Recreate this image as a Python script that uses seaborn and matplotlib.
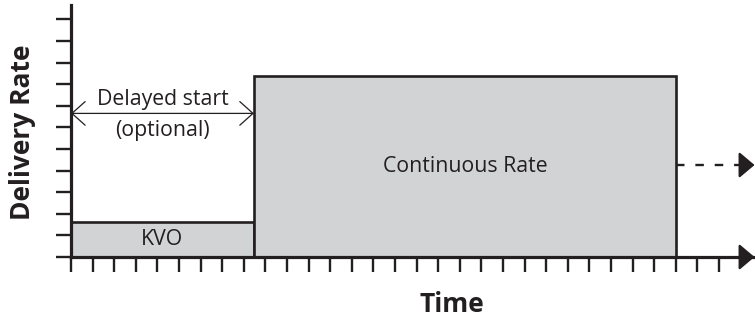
import matplotlib
matplotlib.use("Agg")
import matplotlib.pyplot as plt
import seaborn as sns

# infusion phases (time units = tick spacing, rate units = tick spacing)
phase_labels = ["KVO", "Continuous Rate"]
phase_start = [0.0, 8.47]
phase_end = [8.47, 28.0]
phase_rate = [1.6, 8.4]

continue_rate = 4.26      # dashed continuation after the programmed rate
delay_arrow_rate = 6.65   # height of the "delayed start" arrow
x_ticks = list(range(0, 31))
y_ticks = list(range(0, 12))
x_max = 31.67
y_max = 11.67

ink = "#231f20"
fill = "#d1d3d4"

sns.set_style("ticks")
plt.rcParams["font.family"] = ["Open Sans", "DejaVu Sans"]

fig = plt.figure(figsize=(7.55, 3.25), dpi=100)
ax = fig.add_axes([71 / 755, 68 / 325, 684 / 755, 252 / 325])

widths = [e - s for s, e in zip(phase_start, phase_end)]
ax.bar(phase_start, phase_rate, width=widths, align="edge", color=fill,
       edgecolor=ink, linewidth=1.9, zorder=2)

for s, w, r, lab in zip(phase_start, widths, phase_rate, phase_labels):
    ax.text(s + w / 2, r / 2, lab, ha="center", va="center",
            fontsize=15.3, color=ink, zorder=3)

# delayed start double arrow
ax.annotate("", xy=(0, delay_arrow_rate), xytext=(phase_end[0], delay_arrow_rate),
            arrowprops=dict(arrowstyle="<->,head_length=0.95,head_width=0.85",
                            color=ink, lw=0.9, shrinkA=0, shrinkB=0))
mid = phase_end[0] / 2
ax.annotate("Delayed start", xy=(mid, delay_arrow_rate), xytext=(0, 10),
            textcoords="offset points", ha="center", va="center",
            fontsize=15.3, color=ink)
ax.annotate("(optional)", xy=(mid, delay_arrow_rate), xytext=(0, -12.3),
            textcoords="offset points", ha="center", va="center",
            fontsize=15.3, color=ink)

# dashed continuation and axis arrow heads
head_base = 31.2
tip = 31.65
ax.plot([phase_end[1], head_base], [continue_rate, continue_rate],
        color=ink, lw=1.7, linestyle=(0, (3.6, 4.6)), clip_on=False)
for yv in [continue_rate, 0]:
    ax.annotate("", xy=(tip, yv), xytext=(head_base, yv), annotation_clip=False,
                arrowprops=dict(arrowstyle="-|>,head_length=0.95,head_width=0.8",
                                color=ink, lw=1.6, shrinkA=0, shrinkB=0,
                                clip_on=False))

ax.set_xlim(0, x_max)
ax.set_ylim(0, y_max)
ax.set_xticks(x_ticks)
ax.set_yticks(y_ticks)
ax.set_xticklabels([])
ax.set_yticklabels([])
ax.tick_params(direction="out", length=10.8, width=1.7, color=ink)
sns.despine(ax=ax)
for side in ["left", "bottom"]:
    ax.spines[side].set_linewidth(2.3)
    ax.spines[side].set_color(ink)

ax.set_xlabel("Time", fontsize=19, fontweight="bold", color=ink)
ax.set_ylabel("Delivery Rate", fontsize=19, fontweight="bold", color=ink)
ax.xaxis.set_label_coords((452 - 71) / 684, (257 - 305) / 252)
ax.xaxis.label.set_verticalalignment("center")
ax.yaxis.set_label_coords((23 - 71) / 684, (257 - 132) / 252)
ax.yaxis.label.set_verticalalignment("center")

fig.savefig("out.png", dpi=100)
